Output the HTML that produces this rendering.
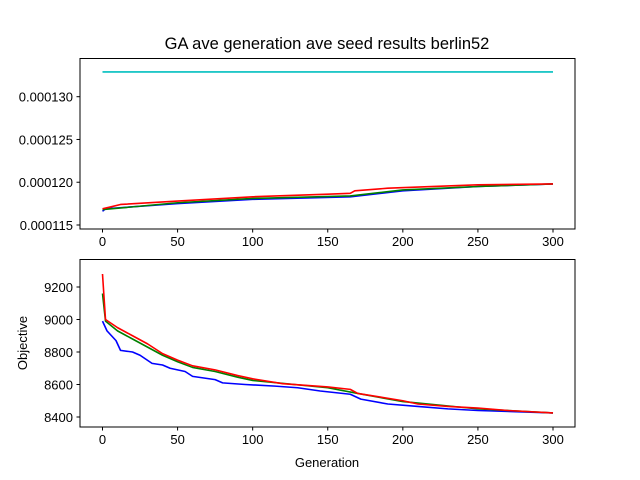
<!DOCTYPE html>
<html><head><meta charset="utf-8"><style>
body{margin:0;background:#fff}
svg{font-family:"Liberation Sans","DejaVu Sans",sans-serif;display:block}
</style></head><body>
<svg id="c" width="640" height="480" viewBox="0 0 640 480">
<text x="327" y="49" text-anchor="middle" font-size="16.5">GA ave generation ave seed results berlin52</text>
<g id="topPlot"></g>
<g id="botPlot"></g>
<text x="327" y="467" text-anchor="middle" font-size="13">Generation</text>
<text transform="translate(27,343) rotate(-90)" text-anchor="middle" font-size="13">Objective</text>
</svg>
<script>
const xTicks=[0,50,100,150,200,250,300];
const topTicks=[0.000115,0.000120,0.000125,0.000130];
const topTickLabels=["0.000115","0.000120","0.000125","0.000130"];
const botTicks=[8400,8600,8800,9000,9200];
const cyanGen=[0,300];
const cyanVal=[132.9,132.9];
const topRedGen=[0,5,12,50,100,150,165,168,190,250,300];
const topRedVal=[116.9,117.1,117.4,117.8,118.3,118.6,118.7,119.0,119.3,119.7,119.8];
const topGreenGen=[0,50,100,165,200,250,300];
const topGreenVal=[116.8,117.6,118.1,118.4,119.1,119.5,119.8];
const topBlueGen=[0,2,50,100,165,200,250,300];
const topBlueVal=[116.6,116.9,117.5,118.0,118.3,119.0,119.5,119.8];
const botRedGen=[0,2,10,20,30,40,50,60,75,90,100,120,150,165,170,200,210,230,250,270,300];
const botRedVal=[9280,9000,8950,8900,8850,8790,8750,8715,8690,8655,8635,8605,8585,8570,8545,8500,8480,8465,8455,8440,8425];
const botGreenGen=[0,2,10,20,30,40,50,60,75,90,100,150,170,200,250,300];
const botGreenVal=[9160,8990,8930,8880,8830,8780,8740,8705,8680,8645,8625,8580,8545,8495,8450,8425];
const botBlueGen=[0,3,6,9,12,20,25,33,40,45,55,60,75,80,95,115,130,145,165,172,190,210,230,250,300];
const botBlueVal=[8990,8930,8900,8870,8810,8800,8780,8730,8720,8700,8680,8650,8630,8610,8600,8590,8580,8560,8540,8510,8480,8465,8450,8440,8425];
const NS="http://www.w3.org/2000/svg";
function mk(p,t,a){const e=document.createElementNS(NS,t);for(const k in a)e.setAttribute(k,a[k]);p.appendChild(e);return e;}
const X=g=>102.5+g*(553-102.5)/300;
const Yt=v=>225-(v-115)*(225-96.7)/15;
const Yb=v=>417-(v-8400)*(417-287)/800;
const AX={l:80,r:575};
function axes(g,top,bottom,ticks,labels,Y){
  for(let i=0;i<xTicks.length;i++){const x=X(xTicks[i]);
    const t=mk(g,'line',{x1:x,x2:x,y1:bottom,y2:bottom+3.5,stroke:'#000'});
    
    
    const l=mk(g,'text',{x:x,y:bottom+17,'text-anchor':'middle','font-size':'13'});l.textContent=xTicks[i];
    
    }
  for(let i=0;i<ticks.length;i++){const y=Y(ticks[i]);
    const t=mk(g,'line',{x1:AX.l-3.5,x2:AX.l,y1:y,y2:y,stroke:'#000'});
    
    
    const l=mk(g,'text',{x:AX.l-7,y:y+5,'text-anchor':'end','font-size':'13'});l.textContent=labels[i];
    
    }
}
function line(g,gens,vals,Y,col,name){
  const p=mk(g,'polyline',{points:gens.map((x,i)=>X(x)+','+Y(vals[i])).join(' '),fill:'none',stroke:col,'stroke-width':'1.6','stroke-linejoin':'round'});
  
  
}
const topG=document.getElementById('topPlot'),botG=document.getElementById('botPlot');
const tv=v=>Yt(v*1e6);
axes(topG,58,229,topTicks,topTickLabels,tv);
line(topG,cyanGen,cyanVal,Yt,'#00bfbf','cyan-series');
line(topG,topBlueGen,topBlueVal,Yt,'#0000ff','top-blue-series');
line(topG,topGreenGen,topGreenVal,Yt,'#008000','top-green-series');
line(topG,topRedGen,topRedVal,Yt,'#ff0000','top-red-series');
let f=mk(topG,'rect',{x:80,y:58.5,width:495,height:170.5,fill:'none',stroke:'#000','stroke-width':'1'});


axes(botG,259,427,botTicks,botTicks.map(String),Yb);
line(botG,botBlueGen,botBlueVal,Yb,'#0000ff','bottom-blue-series');
line(botG,botGreenGen,botGreenVal,Yb,'#008000','bottom-green-series');
line(botG,botRedGen,botRedVal,Yb,'#ff0000','bottom-red-series');
f=mk(botG,'rect',{x:80,y:259.5,width:495,height:167.5,fill:'none',stroke:'#000','stroke-width':'1'});


</script>
</body></html>
